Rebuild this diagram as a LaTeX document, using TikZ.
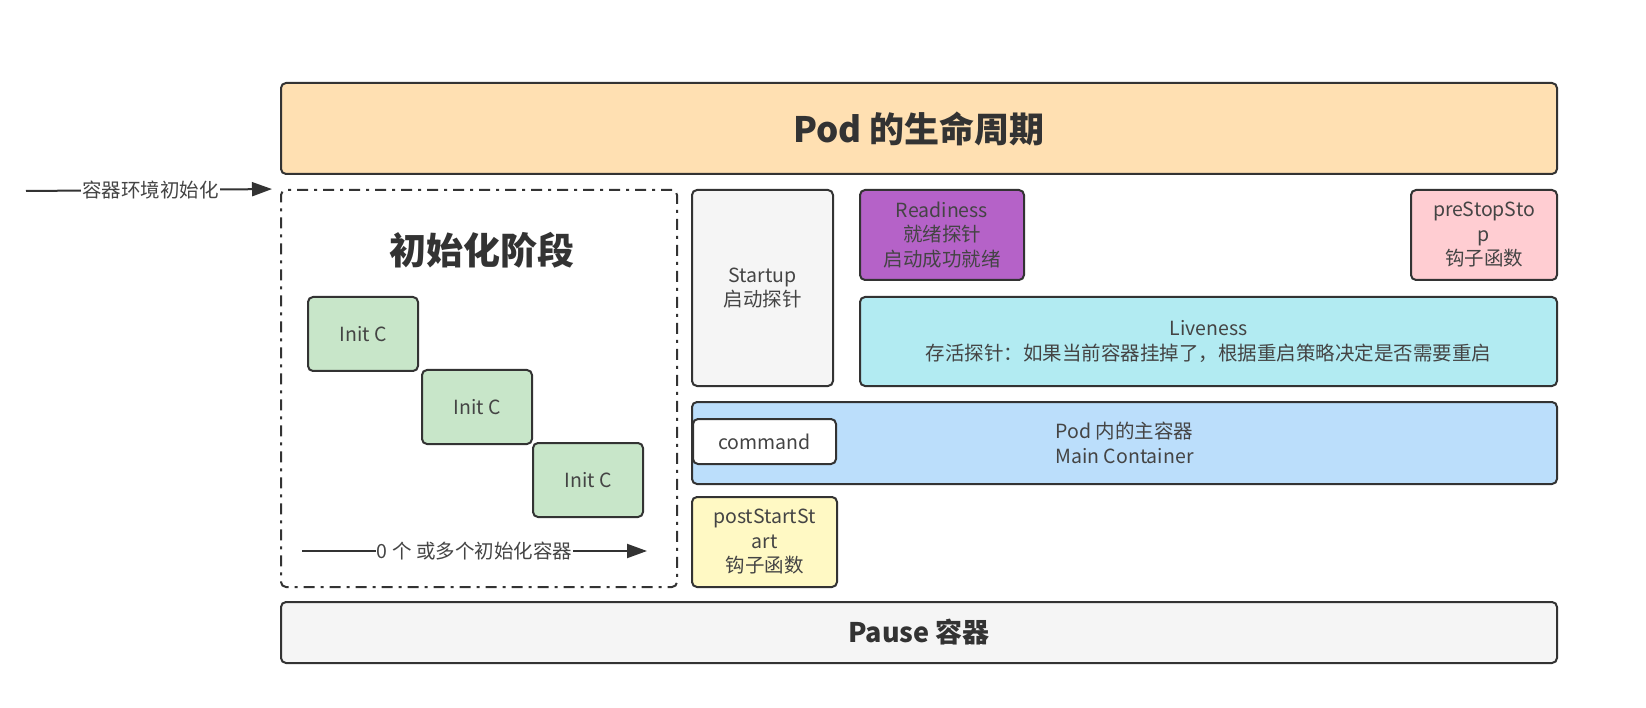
\documentclass[tikz,border=0pt]{standalone}
\usepackage{fontspec}
\setmainfont{Noto Sans CJK SC}
\usetikzlibrary{arrows.meta}
\definecolor{linec}{HTML}{333333}
\definecolor{textc}{HTML}{444444}
\definecolor{titlec}{HTML}{333333}
\definecolor{podc}{HTML}{FFE0B2}
\definecolor{initc}{HTML}{C8E6C9}
\definecolor{grayc}{HTML}{F5F5F5}
\definecolor{readyc}{HTML}{B562C8}
\definecolor{pinkc}{HTML}{FFCDD2}
\definecolor{livec}{HTML}{B2EBF2}
\definecolor{mainc}{HTML}{BBDEFB}
\definecolor{postc}{HTML}{FFF9C4}
\begin{document}
\begin{tikzpicture}[x=1pt,y=-1pt,
  box/.style={draw=linec, line width=2pt, rounded corners=5pt, inner sep=0pt, align=center,
    font=\fontsize{19.5}{24.5}\selectfont, text=textc},
  dashbox/.style={draw=linec, line width=2pt, rounded corners=5pt, inner sep=0pt,
    dash pattern=on 11pt off 6pt on 3pt off 6pt},
  conn/.style={draw=linec, line width=2pt, -{Triangle[length=20pt,width=14pt]}},
  lbl/.style={fill=white, inner sep=1pt, text=textc, font=\fontsize{19.5}{22}\selectfont}
]
\useasboundingbox (0,0) rectangle (1646,708);

\node[box, fill=podc, minimum width=1276pt, minimum height=91pt, text=titlec,
  font=\bfseries\fontsize{35}{40}\selectfont] (pod) at (919,128.5) {Pod 的生命周期};

\node[dashbox, minimum width=396pt, minimum height=397pt] (init) at (479,388.5) {};
\node[text=titlec, font=\bfseries\fontsize{37}{42}\selectfont] (inittitle) at (482,250) {初始化阶段};

\node[box, fill=initc, minimum width=110pt, minimum height=74pt] (ic1) at (363,334) {Init C};
\node[box, fill=initc, minimum width=110pt, minimum height=74pt] (ic2) at (477,407) {Init C};
\node[box, fill=initc, minimum width=110pt, minimum height=74pt] (ic3) at (588,480) {Init C};

\coordinate (a1s) at (302,551);
\coordinate (a1e) at (647,551);
\draw[conn] (a1s) -- node[lbl] {0 个 或多个初始化容器} (a1e);

\coordinate (a0s) at (26,191);
\draw[conn, shorten >=8pt] (a0s) -- node[lbl, pos=0.49] {容器环境初始化} (init.north west);

\node[box, fill=grayc, minimum width=141pt, minimum height=196pt] (startup) at (762.5,288) {Startup\\启动探针};
\node[box, fill=readyc, minimum width=164pt, minimum height=90pt] (ready) at (942,235) {Readiness\\就绪探针\\启动成功就绪};
\node[box, fill=pinkc, minimum width=146pt, minimum height=90pt] (prestop) at (1484,235) {preStopSto\\p\\钩子函数};
\node[box, fill=livec, minimum width=697pt, minimum height=89pt] (live) at (1208.5,341.5) {Liveness\\存活探针：如果当前容器挂掉了，根据重启策略决定是否需要重启};
\node[box, fill=mainc, minimum width=865pt, minimum height=82pt] (main) at (1124.5,443) {Pod 内的主容器\\Main Container};
\node[box, fill=white, minimum width=143pt, minimum height=45pt] (cmd) at (764.5,441.5) {command};
\node[box, fill=postc, minimum width=145pt, minimum height=90pt] (post) at (764.5,542) {postStartSt\\art\\钩子函数};

\node[box, fill=grayc, minimum width=1276pt, minimum height=61pt, text=titlec,
  font=\bfseries\fontsize{27}{32}\selectfont] (pause) at (919,632.5) {Pause 容器};
\end{tikzpicture}
\end{document}
